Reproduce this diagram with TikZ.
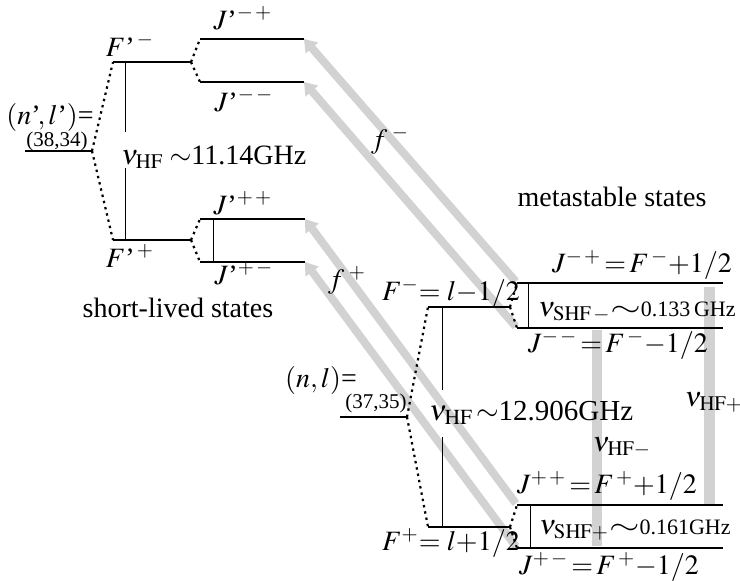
\documentclass[tikz,border=0pt]{standalone}
\usepackage{graphicx}
\usepackage{mathptmx}
\usepackage[no-math]{fontspec}
\setmainfont{Liberation Serif}
\usetikzlibrary{arrows.meta}

\newcommand{\wsim}{\scalebox{1.4}[1]{$\sim$}}

\tikzset{
  level/.style={line width=1pt},
  split/.style={line width=1.1pt, dash pattern=on 1.2pt off 2pt},
  spacing/.style={thin},
  band/.style={line width=4pt, color=gray!35},
  bandarrow/.style={band, -{Triangle[length=6pt, width=8pt]}, shorten <=1pt},
  lbl/.style={font=\fontsize{14}{16}\selectfont, inner sep=0pt},
  sublbl/.style={font=\fontsize{10.5}{12}\selectfont, inner sep=0pt},
}

\begin{document}
\begin{tikzpicture}[x=0.5pt, y=-0.5pt]
  \useasboundingbox (0,0) rectangle (740,581);
  %
  % short-lived states (n',l')
  \coordinate (sN-l) at (25,151);   \coordinate (sN-r) at (92,151);
  \coordinate (sFm-l) at (113,62);  \coordinate (sFm-r) at (191,62);
  \coordinate (sFp-l) at (113,240); \coordinate (sFp-r) at (191,240);
  \coordinate (sJmp-l) at (200,39);  \coordinate (sJmp-r) at (304,39);
  \coordinate (sJmm-l) at (200,82);  \coordinate (sJmm-r) at (304,82);
  \coordinate (sJpp-l) at (200,219); \coordinate (sJpp-r) at (305,219);
  \coordinate (sJpm-l) at (200,262); \coordinate (sJpm-r) at (305,262);
  \coordinate (sHFx) at (125,0);
  %
  % metastable states (n,l)
  \coordinate (mN-l) at (340,417);  \coordinate (mN-r) at (407,417);
  \coordinate (mFm-l) at (428,307); \coordinate (mFm-r) at (510,307);
  \coordinate (mFp-l) at (428,527); \coordinate (mFp-r) at (510,527);
  \coordinate (mJmp-l) at (517,283); \coordinate (mJmp-r) at (723,283);
  \coordinate (mJmm-l) at (517,328); \coordinate (mJmm-r) at (723,328);
  \coordinate (mJpp-l) at (517,505); \coordinate (mJpp-r) at (723,505);
  \coordinate (mJpm-l) at (517,548); \coordinate (mJpm-r) at (723,548);
  \coordinate (mHFx) at (442,0);
  \coordinate (hfm) at (597,0);
  \coordinate (hfp) at (709,0);
  %
  % transitions (drawn first, under the levels)
  \draw[bandarrow] (mJmp-l) -- (sJmp-r);
  \draw[bandarrow] (mJmm-l) -- (sJmm-r);
  \draw[bandarrow] (mJpp-l) -- (sJpp-r);
  \draw[bandarrow] (mJpm-l) -- (sJpm-r);
  \draw[band, line width=5pt] ([yshift=-1pt]mJmm-l -| hfm) -- ([yshift=1pt]mJpm-l -| hfm);
  \draw[band, line width=5.5pt] ([yshift=-2pt]mJmp-l -| hfp) -- (mJpp-l -| hfp);
  %
  % levels
  \draw[level] (sN-l) -- (sN-r);
  \draw[level] (sFm-l) -- (sFm-r);
  \draw[level] (sFp-l) -- (sFp-r);
  \draw[level] (sJmp-l) -- (sJmp-r);
  \draw[level] (sJmm-l) -- (sJmm-r);
  \draw[level] (sJpp-l) -- (sJpp-r);
  \draw[level] (sJpm-l) -- (sJpm-r);
  \draw[level] (mN-l) -- (mN-r);
  \draw[level] (mFm-l) -- (mFm-r);
  \draw[level] (mFp-l) -- (mFp-r);
  \draw[level] (mJmp-l) -- (mJmp-r);
  \draw[level] (mJmm-l) -- (mJmm-r);
  \draw[level] (mJpp-l) -- (mJpp-r);
  \draw[level] (mJpm-l) -- (mJpm-r);
  %
  % splittings
  \draw[split] (sN-r) -- (sFm-l);
  \draw[split] (sN-r) -- (sFp-l);
  \draw[split] (sFm-r) -- (sJmp-l);
  \draw[split] (sFm-r) -- (sJmm-l);
  \draw[split] (sFp-r) -- (sJpp-l);
  \draw[split] (sFp-r) -- (sJpm-l);
  \draw[split] (mN-r) -- (mFm-l);
  \draw[split] (mN-r) -- (mFp-l);
  \draw[split] (mFm-r) -- (mJmp-l);
  \draw[split] (mFm-r) -- (mJmm-l);
  \draw[split] (mFp-r) -- (mJpp-l);
  \draw[split] (mFp-r) -- (mJpm-l);
  %
  % spacings
  \draw[spacing] (sFm-l -| sHFx) -- ++(0,70);
  \draw[spacing] (sFp-l -| sHFx) -- ++(0,-72);
  \draw[spacing] ([xshift=6.5pt]sJpp-l) -- ([xshift=6.5pt]sJpm-l);
  \draw[spacing] (mFm-l -| mHFx) -- ++(0,83);
  \draw[spacing] (mFp-l -| mHFx) -- ++(0,-90);
  \draw[spacing] ([xshift=5.5pt]mJmp-l) -- ([xshift=5.5pt]mJmm-l);
  \draw[spacing] ([xshift=6.5pt]mJpp-l) -- ([xshift=6.5pt]mJpm-l);
  %
  % labels, short-lived side
  \node[lbl] (sN-lbl) at (50,118) {$(n\mbox{'}\!,l\mbox{'})$=};
  \node[sublbl] (sN-val) at (57,141) {(38,34)};
  \node[lbl] (sFm-lbl) at (130,45) {$F\mbox{'}^{\,-}$};
  \node[lbl] (sFp-lbl) at (130,256) {$F\mbox{'}^{\,+}$};
  \node[lbl] (sJmp-lbl) at (243,18) {$J\mbox{'}^{-\,+}$};
  \node[lbl] (sJmm-lbl) at (244,100) {$J\mbox{'}^{-\,-}$};
  \node[lbl] (sJpp-lbl) at (243,203) {$J\mbox{'}^{+\,+}$};
  \node[lbl] (sJpm-lbl) at (244,273) {$J\mbox{'}^{+\,-}$};
  \node[lbl, anchor=west] (sHF) at (121,157) {$\nu_{\mathrm{HF}}\sim$11.14GHz};
  \node[lbl] (short) at (178,308) {short-lived states};
  %
  % transition labels
  \node[lbl] (fm) at (390,140) {$f^{\;-}$};
  \node[lbl] (fp) at (347,280) {$f^{\;+}$};
  %
  % labels, metastable side
  \node[lbl] (meta) at (612,197) {metastable states};
  \node[lbl] (mN-lbl) at (321,381) {$(n,l)$=};
  \node[sublbl] (mN-val) at (376,403) {(37,35)};
  \node[lbl] (mFm-lbl) at (451,293) {$F^{-}\!\!=l{-}1/2$};
  \node[lbl] (mFp-lbl) at (451,543) {$F^{+}\!\!=l{+}1/2$};
  \node[lbl, anchor=west, font=\fontsize{14.5}{16}\selectfont] (mHF) at (429,413) {$\nu_{\mathrm{HF}}\!\sim$12.906GHz};
  \node[lbl] (mJmp-lbl) at (642,265) {$J^{-\,+}\,{=}\,F^{\,-}{+}1/2$};
  \node[lbl] (mJmm-lbl) at (618,345) {$J^{-\,-}\,{=}\,F^{\,-}{-}1/2$};
  \node[lbl] (mJpp-lbl) at (607,486) {$J^{+\,+}\,{=}\,F^{\,+}{+}1/2$};
  \node[lbl] (mJpm-lbl) at (609,567) {$J^{+\,-}\,{=}\,F^{\,+}{-}1/2$};
  \node[lbl] (shfm) at (637,312) {$\nu_{\mathrm{SHF}\,-}$\wsim{\fontsize{11}{12}\selectfont 0.133\,GHz}};
  \node[lbl] (shfp) at (635,530) {$\nu_{\mathrm{SHF}+}$\wsim{\fontsize{11}{12}\selectfont 0.161GHz}};
  \node[lbl] (hfp-lbl) at (714,402) {$\nu_{\mathrm{HF}+}$};
  \node[lbl] (hfm-lbl) at (622,447) {$\nu_{\mathrm{HF}-}$};
\end{tikzpicture}
\end{document}
